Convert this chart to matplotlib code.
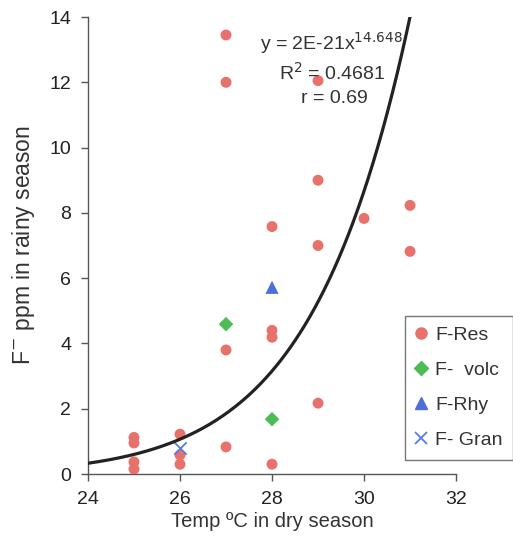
import numpy as np
import matplotlib.pyplot as plt
from matplotlib.lines import Line2D

plt.rcParams['font.family'] = ['Liberation Sans', 'DejaVu Sans']

# dry season temperature (x) vs rainy season fluoride (y)
res_temp = [25, 25, 25, 25, 26, 26, 26, 27, 27, 27, 27, 28, 28, 28, 28,
            29, 29, 29, 29, 30, 31, 31]
res_f = [1.12, 0.95, 0.37, 0.15, 1.22, 0.58, 0.30, 13.45, 12.0, 3.8, 0.83,
         7.58, 4.4, 4.19, 0.30, 12.05, 9.0, 7.0, 2.17, 7.83, 8.23, 6.82]
volc_temp = [27, 28]
volc_f = [4.59, 1.68]
rhy_temp = [28]
rhy_f = [5.72]
gran_temp = [26]
gran_f = [0.8]

# power trendline y = a * x^b
fit_a = 2e-21
fit_b = 14.648
fit_r2 = 0.4681
fit_r = 0.69

fig = plt.figure(figsize=(5.13, 5.37), dpi=100)
ax = fig.add_axes([0.1715, 0.1173, 0.7175, 0.851])

ax.scatter(res_temp, res_f, s=62, color='#e8716c', edgecolors='none', zorder=3)
ax.scatter(volc_temp, volc_f, s=55, marker='D', color='#4cbd55', edgecolors='none', zorder=3)
ax.scatter(rhy_temp, rhy_f, s=90, marker='^', color='#4d6fdc', edgecolors='none', zorder=3)
ax.scatter(gran_temp, gran_f, s=80, marker='x', color='#5a7ae8', linewidths=1.3, zorder=3)

xs = np.linspace(24, 31, 200)
ax.plot(xs, fit_a * xs ** fit_b, color='#222222', lw=2.3, zorder=4)

txt = dict(ha='center', va='center', fontsize=14, color='#333333')
ax.text(29.3, 13.2, 'y = 2E-21x$^{%.3f}$' % fit_b, **txt)
ax.text(29.3, 12.3, 'R$^2$ = %.4f' % fit_r2, **txt)
ax.text(29.35, 11.5, 'r = %.2f' % fit_r, **txt)

ax.set_xlim(24, 32)
ax.set_ylim(0, 14)
ax.set_xticks([24, 26, 28, 30, 32])
ax.set_yticks(range(0, 15, 2))
for side in ['top', 'right']:
    ax.spines[side].set_visible(False)
for side in ['left', 'bottom']:
    ax.spines[side].set_color('#555555')
    ax.spines[side].set_linewidth(1)
ax.tick_params(axis='both', labelsize=14, colors='#555555', labelcolor='#222222',
               length=5, width=1, pad=7)
ax.set_xlabel('Temp ºC in dry season', fontsize=14.5, color='#333333', labelpad=3)
ax.set_ylabel('F$^{-}$ ppm in rainy season', fontsize=16.5, color='#333333', labelpad=9)

handles = [
    Line2D([], [], ls='', marker='o', ms=8, color='#e8716c', label='F-Res'),
    Line2D([], [], ls='', marker='D', ms=7, color='#4cbd55', label='F-  volc'),
    Line2D([], [], ls='', marker='^', ms=9, color='#4d6fdc', label='F-Rhy'),
    Line2D([], [], ls='', marker='x', ms=9, mew=1.3, color='#5a7ae8', label='F- Gran'),
]
leg = ax.legend(handles=handles, loc='lower left', bbox_to_anchor=(0.861, 0.031),
                fontsize=14, frameon=True, fancybox=False, handlelength=0.6,
                handletextpad=0.4, labelspacing=0.9, borderpad=0.55,
                borderaxespad=0, labelcolor='#333333')
leg.get_frame().set_edgecolor('#555555')
leg.get_frame().set_linewidth(1)

fig.savefig('out.png', dpi=100)
